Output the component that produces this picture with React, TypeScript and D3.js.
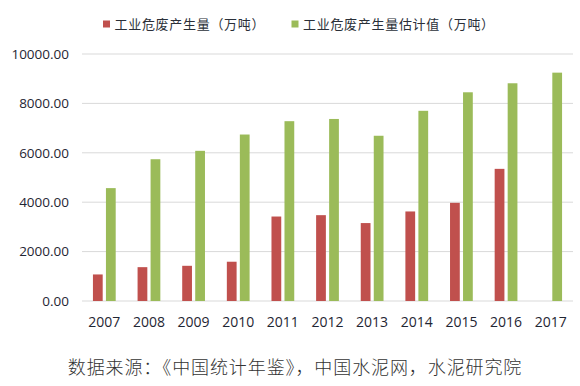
import { useRef, useEffect } from "react";
import * as d3 from "d3";

const YEARS = ["2007", "2008", "2009", "2010", "2011", "2012", "2013", "2014", "2015", "2016", "2017"];
// 工业危废产生量（万吨）; 2017 has no value
const ACTUAL: (number | null)[] = [1075, 1370, 1425, 1590, 3420, 3475, 3155, 3625, 3975, 5350, null];
// 工业危废产生量估计值（万吨）
const ESTIMATE: number[] = [4570, 5740, 6080, 6740, 7280, 7370, 6690, 7700, 8450, 8815, 9245];
const SERIES = ["工业危废产生量（万吨）", "工业危废产生量估计值（万吨）"];
const Y_TICKS = [0, 2000, 4000, 6000, 8000, 10000];
const SOURCE = "数据来源：《中国统计年鉴》，中国水泥网，水泥研究院";

const COLORS = ["#c0504d", "#9bbb59"];
const FONT = "'Open Sans', 'Noto Sans CJK SC', sans-serif";
const CJK = "'Noto Sans CJK SC', sans-serif";
const TEXT = "#1f2633";
const WIDTH = 580;
const HEIGHT = 386;
const PLOT = { left: 82, right: 573, top: 54, bottom: 301 };

export default function App() {
  const svgRef = useRef<SVGSVGElement>(null);

  useEffect(() => {
    const svg = svgRef.current;
    if (!svg) return;
    const root = d3.select(svg);
    root.selectAll("*").remove();

    const x0 = d3
      .scaleBand<string>()
      .domain(YEARS)
      .range([PLOT.left, PLOT.right])
      .paddingInner(0.49)
      .paddingOuter(0.245);
    const x1 = d3
      .scaleBand<string>()
      .domain(SERIES)
      .range([0, x0.bandwidth()])
      .paddingInner(0.25);
    const y = d3.scaleLinear().domain([0, 10000]).range([PLOT.bottom, PLOT.top]);

    // grid lines + y labels
    for (const t of Y_TICKS) {
      root.append("line")
        .attr("x1", PLOT.left)
        .attr("x2", PLOT.right)
        .attr("y1", y(t))
        .attr("y2", y(t))
        .attr("stroke", "#d9d9d9")
        .attr("stroke-width", 1);
      root.append("text")
        .attr("x", 69)
        .attr("y", y(t))
        .attr("dy", "0.36em")
        .attr("text-anchor", "end")
        .attr("fill", TEXT)
        .attr("font-family", FONT)
        .attr("font-size", 13.5)
        .text(t.toFixed(2));
    }

    // bars
    const seriesData = [ACTUAL, ESTIMATE];
    seriesData.forEach((vals, si) => {
      vals.forEach((v, i) => {
        if (v == null) return;
        root.append("rect")
          .attr("x", (x0(YEARS[i]) ?? 0) + (x1(SERIES[si]) ?? 0))
          .attr("y", y(v))
          .attr("width", x1.bandwidth())
          .attr("height", y(0) - y(v))
          .attr("fill", COLORS[si]);
      });
    });

    // x labels
    for (const yr of YEARS) {
      root.append("text")
        .attr("x", (x0(yr) ?? 0) + x0.bandwidth() / 2)
        .attr("y", 327)
        .attr("text-anchor", "middle")
        .attr("fill", TEXT)
        .attr("font-family", FONT)
        .attr("font-size", 14)
        .text(yr);
    }

    // legend
    const legendX = [103, 291.5];
    SERIES.forEach((name, si) => {
      root.append("rect")
        .attr("x", legendX[si])
        .attr("y", 20.5)
        .attr("width", 7)
        .attr("height", 7)
        .attr("fill", COLORS[si]);
      root.append("text")
        .attr("x", legendX[si] + 11.5)
        .attr("y", 24)
        .attr("dy", "0.36em")
        .attr("fill", "#2a2f38")
        .attr("font-family", CJK)
        .attr("font-size", 13)
        .attr("letter-spacing", 0.7)
        .text(name);
    });

    // source note
    root.append("text")
      .attr("x", 295)
      .attr("y", 368)
      .attr("dy", "0.36em")
      .attr("text-anchor", "middle")
      .attr("fill", "#333")
      .attr("font-family", "'Noto Sans CJK SC', serif")
      .attr("font-weight", 300)
      .attr("font-size", 18)
      .attr("letter-spacing", 0.9)
      .text(SOURCE);
  }, []);

  return (
    <svg
      ref={svgRef}
      width={WIDTH}
      height={HEIGHT}
      style={{ position: "absolute", left: 0, top: 0, background: "#fff" }}
    />
  );
}
